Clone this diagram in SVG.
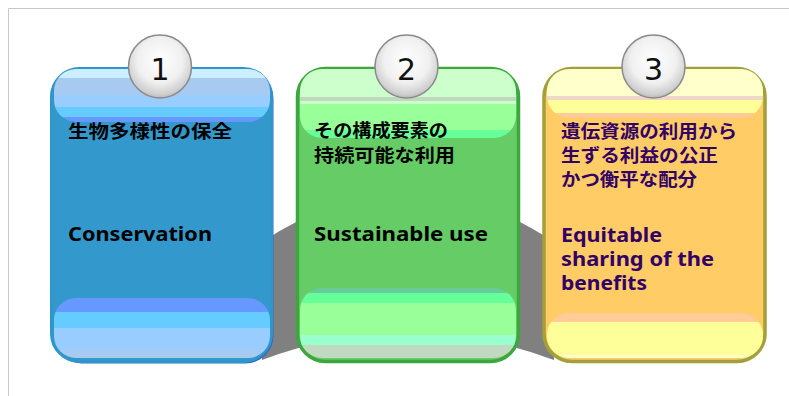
<svg xmlns="http://www.w3.org/2000/svg" width="789" height="396" viewBox="0 0 789 396">
  <style>
    .jp { font-family: "Noto Sans CJK JP", sans-serif; font-weight: bold; font-size: 18px; }
    .en { font-family: "Noto Sans", "Open Sans", sans-serif; font-weight: bold; font-size: 20px; }
    .num { font-family: "DejaVu Sans", "Liberation Sans", sans-serif; font-size: 30px; fill: #111; text-anchor: middle; }
    .badge { fill: url(#gBadge); stroke: #8a8a8a; stroke-width: 1.5; }
  </style>
  <defs>
    <radialGradient id="gBadge" cx="0.5" cy="0.4" r="0.6">
      <stop offset="0" stop-color="#ffffff"/>
      <stop offset="0.6" stop-color="#f0f0f0"/>
      <stop offset="0.9" stop-color="#cfcfcf"/>
      <stop offset="1" stop-color="#b8b8b8"/>
    </radialGradient>
    <clipPath id="c1t"><rect x="54" y="69" width="216" height="53" rx="22"/></clipPath>
    <clipPath id="c1b"><rect x="54" y="298" width="216" height="60" rx="22"/></clipPath>
    <clipPath id="c2t"><rect x="300" y="69" width="216" height="69" rx="22"/></clipPath>
    <clipPath id="c2b"><rect x="300" y="288" width="216" height="70" rx="22"/></clipPath>
    <clipPath id="c3t"><rect x="547" y="69" width="216" height="49" rx="22"/></clipPath>
    <clipPath id="c3b"><rect x="547" y="313" width="216" height="45" rx="22"/></clipPath>
  </defs>

  <rect width="789" height="396" fill="#ffffff"/>
  <path d="M8.5 396 V8.5 H789" fill="none" stroke="#c8c8c8" stroke-width="1"/>

  <!-- gray arch shadow -->
  <path d="M262 242 Q408 145 554 242 L554 360 Q408 305 262 360 Z" fill="#808080"/>

  <g id="node1">
    <rect x="53.5" y="70.5" width="220" height="293" rx="28" fill="#3366cc"/>
    <rect x="51.5" y="68.5" width="220" height="293" rx="28" fill="#3399cc" stroke="#2f96cb" stroke-width="3"/>
    <g clip-path="url(#c1t)">
      <rect x="54" y="69" width="216" height="9" fill="#cceeff"/>
      <rect x="54" y="78" width="216" height="17" fill="#a6caf0"/>
      <rect x="54" y="95" width="216" height="12" fill="#99ccff"/>
      <rect x="54" y="107" width="216" height="10" fill="#66ccff"/>
      <rect x="54" y="117" width="216" height="5" fill="#6699ff"/>
    </g>
    <g clip-path="url(#c1b)">
      <rect x="54" y="298" width="216" height="14" fill="#6699ff"/>
      <rect x="54" y="312" width="216" height="16" fill="#66ccff"/>
      <rect x="54" y="328" width="216" height="22" fill="#99ccff"/>
      <rect x="54" y="350" width="216" height="8" fill="#a6caf0"/>
    </g>
    <text class="jp" x="68" y="138" fill="#000" textLength="164" lengthAdjust="spacingAndGlyphs">生物多様性の保全</text>
    <text class="en" x="68" y="241" fill="#000" textLength="144" lengthAdjust="spacingAndGlyphs">Conservation</text>
    <circle class="badge" cx="160" cy="66.5" r="31.5"/>
    <text class="num" x="160" y="80">1</text>
  </g>

  <g id="node2">
    <rect x="297.5" y="68.5" width="221" height="293" rx="28" fill="#66cc66" stroke="#3da63d" stroke-width="3.5"/>
    <g clip-path="url(#c2t)">
      <rect x="300" y="69" width="216" height="28" fill="#ccffcc"/>
      <rect x="300" y="97" width="216" height="4" fill="#bfd9bf"/>
      <rect x="300" y="101" width="216" height="3" fill="#ccffcc"/>
      <rect x="300" y="104" width="216" height="26" fill="#99ff99"/>
      <rect x="300" y="130" width="216" height="8" fill="#66ff99"/>
    </g>
    <g clip-path="url(#c2b)">
      <rect x="300" y="288" width="216" height="5" fill="#66cc99"/>
      <rect x="300" y="293" width="216" height="10" fill="#66ff99"/>
      <rect x="300" y="303" width="216" height="32" fill="#99ff99"/>
      <rect x="300" y="335" width="216" height="10" fill="#99ffcc"/>
      <rect x="300" y="345" width="216" height="13" fill="#c0d9c0"/>
    </g>
    <text class="jp" x="314" y="137" fill="#000" textLength="134" lengthAdjust="spacingAndGlyphs">その構成要素の</text>
    <text class="jp" x="314" y="162" fill="#000" textLength="141" lengthAdjust="spacingAndGlyphs">持続可能な利用</text>
    <text class="en" x="314" y="241" fill="#000" textLength="174" lengthAdjust="spacingAndGlyphs">Sustainable  use</text>
    <circle class="badge" cx="406.5" cy="66.5" r="31.5"/>
    <text class="num" x="406.5" y="80">2</text>
  </g>

  <g id="node3">
    <rect x="544" y="68.5" width="221" height="293" rx="28" fill="#ffcc66" stroke="#a39f3a" stroke-width="3.5"/>
    <g clip-path="url(#c3t)">
      <rect x="547" y="69" width="216" height="27" fill="#ffffcc"/>
      <rect x="547" y="96" width="216" height="4" fill="#f0d8c8"/>
      <rect x="547" y="100" width="216" height="13" fill="#ffff99"/>
      <rect x="547" y="113" width="216" height="5" fill="#ffcc99"/>
    </g>
    <g clip-path="url(#c3b)">
      <rect x="547" y="313" width="216" height="9" fill="#ffcc99"/>
      <rect x="547" y="322" width="216" height="33" fill="#ffff99"/>
      <rect x="547" y="355" width="216" height="3" fill="#ffffcc"/>
    </g>
    <text class="jp" x="561" y="138" fill="#330066" textLength="176" lengthAdjust="spacingAndGlyphs">遺伝資源の利用から</text>
    <text class="jp" x="561" y="162" fill="#330066" textLength="157" lengthAdjust="spacingAndGlyphs">生ずる利益の公正</text>
    <text class="jp" x="561" y="186" fill="#330066" textLength="136" lengthAdjust="spacingAndGlyphs">かつ衡平な配分</text>
    <text class="en" x="561" y="242" fill="#330066" textLength="101" lengthAdjust="spacingAndGlyphs">Equitable</text>
    <text class="en" x="561" y="266" fill="#330066" textLength="153" lengthAdjust="spacingAndGlyphs">sharing of the</text>
    <text class="en" x="561" y="290" fill="#330066" textLength="86" lengthAdjust="spacingAndGlyphs">benefits</text>
    <circle class="badge" cx="653.5" cy="66.5" r="31.5"/>
    <text class="num" x="653.5" y="80">3</text>
  </g>

  <g id="connectors"/>
</svg>
